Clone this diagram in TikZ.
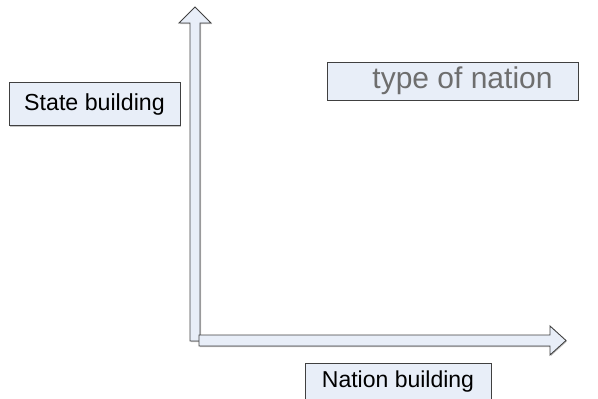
\documentclass[tikz,border=0pt]{standalone}
\usepackage{fontspec}
\setmainfont{Liberation Sans}
\usetikzlibrary{shadows}

\definecolor{boxfill}{RGB}{232,238,248}
\definecolor{boxline}{RGB}{64,64,64}
\definecolor{labelgray}{RGB}{110,110,110}

\begin{document}
\begin{tikzpicture}[x=1pt,y=-1pt,
  box/.style={draw=boxline,fill=boxfill,line width=0.9pt,inner sep=0pt,
    drop shadow={shadow xshift=1pt,shadow yshift=-1pt,opacity=0.45}},
  blockarrow/.style={draw=boxline,fill=boxfill,line width=0.9pt,line join=miter,
    drop shadow={shadow xshift=1pt,shadow yshift=-1pt,opacity=0.45}}]
  \useasboundingbox (0,0) rectangle (598,399);

  % Axis
  \draw[blockarrow] (190,341) -- (190,23) -- (179,23) -- (195,7) -- (211,23)
    -- (200,23) -- (200,341) -- cycle;
  \draw[blockarrow] (199,335) -- (550,335) -- (550,326) -- (566,340.5)
    -- (550,355) -- (550,346) -- (199,346) -- cycle;

  % Labels
  \node[box,minimum width=171,minimum height=43,font=\fontsize{23.2}{26}\selectfont]
    (state) at (94.5,104) {State building};
  \node[box,minimum width=251,minimum height=38,text=labelgray,
    font=\fontsize{30}{34}\selectfont]
    (nationtype) at (452.5,81) {\hspace*{20pt}type of nation};
  \node[box,minimum width=186,minimum height=36,font=\fontsize{23}{26}\selectfont]
    (nation) at (398,381.5) {Nation building};
\end{tikzpicture}
\end{document}
